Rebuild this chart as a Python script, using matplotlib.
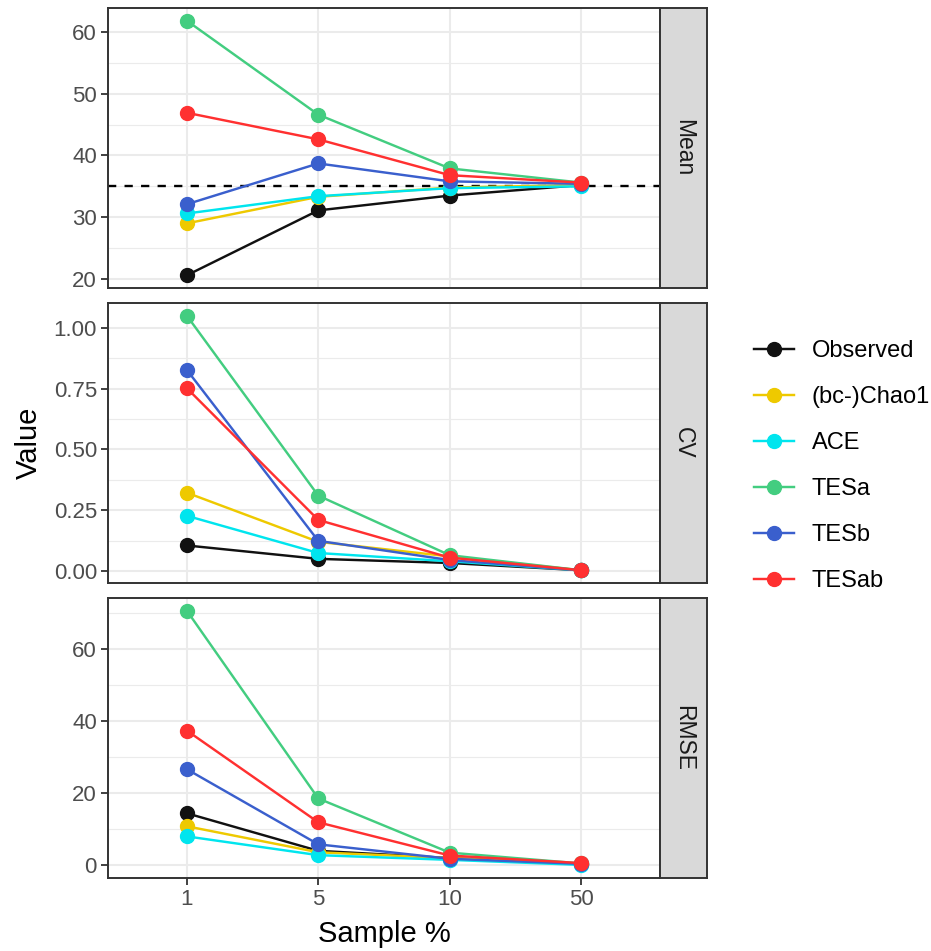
import matplotlib.pyplot as plt
import numpy as np
from matplotlib.lines import Line2D

plt.rcParams['font.family'] = ['Liberation Sans', 'DejaVu Sans']

# data
samples = ['1', '5', '10', '50']
methods = ['Observed', '(bc-)Chao1', 'ACE', 'TESa', 'TESb', 'TESab']
colors = ['#111111', '#EEC900', '#00E5EE', '#43CD80', '#3A5FCD', '#FF3030']

mean_vals = {
    'Observed': [20.6, 31.1, 33.5, 35.2],
    '(bc-)Chao1': [29.0, 33.3, 34.8, 35.2],
    'ACE': [30.6, 33.4, 34.7, 35.0],
    'TESa': [61.8, 46.6, 37.9, 35.6],
    'TESb': [32.1, 38.7, 35.8, 35.4],
    'TESab': [46.9, 42.6, 36.8, 35.6],
}
cv_vals = {
    'Observed': [0.105, 0.050, 0.033, 0.003],
    '(bc-)Chao1': [0.322, 0.120, 0.060, 0.003],
    'ACE': [0.227, 0.074, 0.040, 0.003],
    'TESa': [1.050, 0.310, 0.065, 0.003],
    'TESb': [0.827, 0.124, 0.045, 0.003],
    'TESab': [0.752, 0.210, 0.055, 0.003],
}
rmse_vals = {
    'Observed': [14.4, 4.0, 2.0, 0.4],
    '(bc-)Chao1': [10.8, 3.6, 2.0, 0.3],
    'ACE': [8.0, 2.8, 1.5, 0.1],
    'TESa': [70.5, 18.5, 3.5, 0.5],
    'TESb': [26.6, 5.8, 1.8, 0.4],
    'TESab': [37.3, 11.9, 2.7, 0.6],
}
true_richness = 35

panels = [
    ('Mean', mean_vals, [20, 30, 40, 50, 60], '{:.0f}'),
    ('CV', cv_vals, [0.0, 0.25, 0.5, 0.75, 1.0], '{:.2f}'),
    ('RMSE', rmse_vals, [0, 20, 40, 60], '{:.0f}'),
]

W, H = 931, 951
fig = plt.figure(figsize=(W / 100, H / 100), dpi=100)

left, right, strip_r = 108, 660, 707
tops = [8, 303, 598]
ph = 280
x = np.arange(1, len(samples) + 1)
border = '#333333'
lw, ms = 1.75, 10

for i, (name, vals, yt, fmt) in enumerate(panels):
    top = tops[i]
    ax = fig.add_axes([left / W, 1 - (top + ph) / H, (right - left) / W, ph / H])
    allv = np.concatenate([vals[m] for m in methods])
    lo, hi = allv.min(), allv.max()
    if name == 'RMSE':
        lo = 0
    pad = (hi - lo) * 0.05
    ax.set_ylim(lo - pad, hi + pad)
    ax.set_xlim(0.4, 4.6)

    # grid
    for t in yt:
        ax.axhline(t, color='#EBEBEB', lw=1.5, zorder=0)
    for a, b in zip(yt[:-1], yt[1:]):
        ax.axhline((a + b) / 2, color='#EBEBEB', lw=0.8, zorder=0)
    step = yt[1] - yt[0]
    ax.axhline(yt[-1] + step / 2, color='#EBEBEB', lw=0.8, zorder=0)
    ax.axhline(yt[0] - step / 2, color='#EBEBEB', lw=0.8, zorder=0)
    for xi in x:
        ax.axvline(xi, color='#EBEBEB', lw=1.5, zorder=0)

    if name == 'Mean':
        ax.axhline(true_richness, color='black', lw=1.7, ls=(0, (3.5, 3.5)), zorder=1)

    for m, c in zip(methods, colors):
        ax.plot(x, vals[m], color=c, lw=lw, marker='o', ms=ms, zorder=3)

    ax.set_yticks(yt)
    ax.set_yticklabels([fmt.format(t) for t in yt])
    ax.set_xticks(x)
    ax.tick_params(colors=border, labelcolor='#4D4D4D', labelsize=16, length=5, width=1.3, pad=3)
    if i == 2:
        ax.set_xticklabels(samples)
    else:
        ax.set_xticklabels([])
        ax.tick_params(axis='x', length=0)
    for s in ax.spines.values():
        s.set_color(border)
        s.set_linewidth(1.4)

    # strip
    sax = fig.add_axes([right / W, 1 - (top + ph) / H, (strip_r - right) / W, ph / H])
    sax.set_facecolor('#D9D9D9')
    sax.set_xticks([])
    sax.set_yticks([])
    for s in sax.spines.values():
        s.set_color(border)
        s.set_linewidth(1.4)
    sax.text(0.5, 0.5, name, rotation=-90, ha='center', va='center',
             fontsize=16.5, color='#1A1A1A', transform=sax.transAxes)

fig.text(29 / W, 1 - 443 / H, 'Value', rotation=90, ha='center', va='center', fontsize=21)
fig.text(384 / W, 1 - 934 / H, 'Sample %', ha='center', va='center', fontsize=21)

handles = [Line2D([0], [0], color=c, lw=lw, marker='o', ms=ms) for c in colors]
fig.legend(handles, methods, loc='center left', bbox_to_anchor=(754 / W, 1 - 466 / H),
           frameon=False, fontsize=17, labelspacing=1.02, handlelength=1.7,
           handletextpad=0.75, borderpad=0, borderaxespad=0)

fig.savefig('out.png', dpi=100)
